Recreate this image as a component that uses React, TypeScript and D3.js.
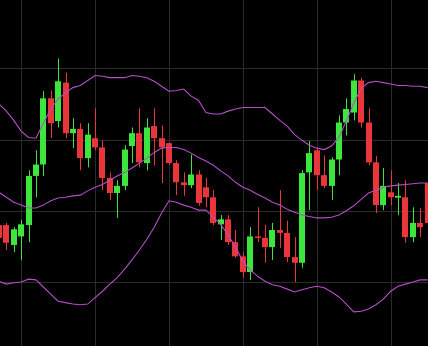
import React from "react";
import * as d3 from "d3";

const W = 428;
const H = 346;

// Candle OHLC values (index 0..58)
const opens = [48.0, 48.0, 45.2, 46.4, 48.0, 54.9, 56.5, 65.8, 62.6, 68.0, 60.9, 61.5, 57.4, 60.2, 58.9, 54.6, 52.5, 53.5, 59.1, 60.9, 56.7, 61.9, 60.2, 59.5, 56.7, 54.0, 53.6, 55.1, 53.3, 51.9, 48.1, 48.8, 45.6, 43.6, 41.4, 46.4, 46.2, 44.9, 47.3, 46.9, 43.5, 42.7, 55.4, 58.5, 55.0, 53.5, 57.2, 62.4, 63.8, 68.3, 62.4, 56.8, 50.8, 52.6, 51.85, 51.9, 46.3, 48.3, 53.9];
const closes = [46.2, 45.5, 47.4, 48.1, 54.9, 56.5, 65.8, 62.3, 68.2, 60.9, 61.5, 57.4, 60.7, 58.9, 54.6, 52.5, 53.5, 58.6, 60.9, 56.8, 61.7, 60.2, 58.9, 56.7, 54.0, 53.6, 55.1, 51.1, 51.9, 48.3, 48.8, 45.6, 43.6, 41.4, 46.4, 46.2, 44.9, 47.3, 46.9, 43.5, 42.7, 55.3, 58.1, 55.0, 53.5, 57.2, 62.4, 64.3, 68.3, 62.4, 56.8, 50.8, 53.5, 51.9, 52.1, 46.3, 48.3, 47.7, 48.3];
const highs = [48.4, 48.3, 47.7, 48.7, 55.7, 58.5, 66.8, 66.9, 71.4, 69.4, 63.0, 62.3, 62.3, 64.4, 59.9, 55.4, 54.3, 59.2, 61.7, 64.4, 63.0, 64.4, 62.0, 59.6, 57.1, 55.4, 57.9, 55.7, 54.6, 52.9, 49.4, 49.4, 47.3, 44.2, 47.7, 50.5, 48.0, 48.3, 52.9, 48.6, 46.3, 55.7, 59.8, 58.8, 57.8, 57.5, 63.4, 65.8, 69.2, 68.7, 64.4, 57.7, 56.0, 55.7, 53.9, 54.3, 50.5, 50.4, 54.6];
const lows = [45.6, 44.5, 44.2, 43.1, 45.6, 51.9, 54.9, 60.2, 61.7, 60.2, 58.8, 55.7, 56.1, 58.5, 52.9, 51.5, 49.0, 52.9, 56.7, 56.1, 55.7, 56.4, 53.9, 56.4, 52.2, 52.1, 53.2, 50.7, 50.5, 48.0, 45.9, 45.2, 43.4, 40.6, 40.3, 45.6, 42.7, 43.1, 44.8, 42.8, 40.0, 42.0, 50.1, 52.9, 53.2, 51.5, 55.0, 60.6, 62.7, 61.7, 56.4, 49.7, 50.1, 50.8, 49.4, 45.5, 45.6, 46.3, 47.6];

// Bollinger bands
const upperBand = [65.0, 64.0, 62.7, 61.2, 60.3, 60.2, 62.3, 64.3, 65.7, 66.6, 67.3, 67.6, 68.3, 69.0, 68.9, 68.7, 68.7, 68.7, 69.0, 68.9, 68.7, 68.2, 67.5, 66.8, 66.9, 67.1, 66.1, 65.5, 63.8, 63.6, 63.6, 64.0, 64.3, 64.5, 64.5, 64.5, 64.5, 63.6, 62.7, 61.9, 60.7, 59.9, 59.2, 58.8, 58.6, 59.1, 60.3, 62.6, 65.1, 67.2, 68.0, 68.2, 68.0, 67.8, 67.6, 67.6, 67.5, 67.5, 67.3];
const middleBand = [52.6, 51.9, 51.2, 50.8, 50.4, 50.4, 50.8, 51.4, 51.8, 51.9, 52.1, 52.2, 52.8, 53.3, 53.7, 54.3, 54.9, 55.4, 56.0, 56.7, 57.4, 58.2, 58.8, 58.9, 58.9, 58.6, 58.1, 57.5, 57.0, 56.4, 55.6, 54.9, 54.0, 53.3, 52.9, 52.3, 51.8, 51.2, 50.8, 50.2, 49.8, 49.4, 49.2, 49.0, 49.0, 49.1, 49.4, 50.0, 50.7, 51.6, 52.5, 52.9, 53.3, 53.5, 53.6, 53.7, 53.8, 53.9, 53.9];
const lowerBand = [40.1, 39.7, 39.9, 40.0, 40.4, 40.3, 39.3, 38.3, 37.3, 37.1, 36.9, 36.8, 36.9, 37.8, 38.7, 39.7, 40.6, 41.8, 43.1, 44.5, 46.0, 47.7, 49.7, 51.4, 51.2, 50.8, 50.5, 50.1, 50.1, 49.1, 48.1, 46.6, 44.9, 42.9, 41.7, 40.8, 40.1, 39.6, 39.4, 39.0, 38.6, 38.9, 39.2, 39.4, 39.2, 38.6, 37.9, 36.9, 35.8, 35.9, 36.2, 36.8, 37.6, 38.7, 39.4, 39.7, 40.0, 40.3, 40.3];

// Grid positions (candle indices / price levels)
const gridIndices = [3, 13, 23, 33, 43, 53];
const gridPrices = [40, 50, 60, 70];

const GREEN = "#3de63d";
const RED = "#e8363a";
const BAND = "#b54ec8";
const GRID = "#2b2b2b";

export default function App() {
  const n = opens.length;
  const x = d3.scaleLinear().domain([0, n - 1]).range([-1, -1 + 7.39 * (n - 1)]);
  const y = d3.scaleLinear().domain([40, 70]).range([282, 68.4]);
  const bodyW = 6;

  const line = d3
    .line<number>()
    .x((_, i) => x(i))
    .y((v) => y(v))
    .curve(d3.curveLinear);

  const bands = [upperBand, middleBand, lowerBand];

  return (
    <svg
      width={W}
      height={H}
      style={{ position: "absolute", left: 0, top: 0, display: "block", background: "#000" }}
    >
      <rect x={0} y={0} width={W} height={H} fill="#000" />
      <g>
        {gridIndices.map((gi) => (
          <line
            key={"gx" + gi}
            x1={Math.round(x(gi)) + 0.5}
            x2={Math.round(x(gi)) + 0.5}
            y1={0}
            y2={H}
            stroke={GRID}
            strokeWidth={1}
          />
        ))}
        {gridPrices.map((gp) => (
          <line
            key={"gy" + gp}
            x1={0}
            x2={W}
            y1={Math.round(y(gp)) + 0.5}
            y2={Math.round(y(gp)) + 0.5}
            stroke={GRID}
            strokeWidth={1}
          />
        ))}
      </g>
      <g>
        {opens.map((o, i) => {
          const c = closes[i];
          const up = c >= o;
          const col = up ? GREEN : RED;
          const cx = x(i);
          const top = y(Math.max(o, c));
          const bot = y(Math.min(o, c));
          const wx = Math.round(cx) + 0.5;
          return (
            <g key={"c" + i}>
              <line x1={wx} x2={wx} y1={y(highs[i])} y2={y(lows[i])} stroke={col} strokeWidth={1} />
              <rect
                x={Math.round(cx - bodyW / 2)}
                y={top}
                width={bodyW}
                height={Math.max(1.5, bot - top)}
                fill={col}
              />
            </g>
          );
        })}
      </g>
      <g>
        {bands.map((b, k) => (
          <path key={"b" + k} d={line(b) || ""} fill="none" stroke={BAND} strokeWidth={1.1} />
        ))}
      </g>
    </svg>
  );
}
